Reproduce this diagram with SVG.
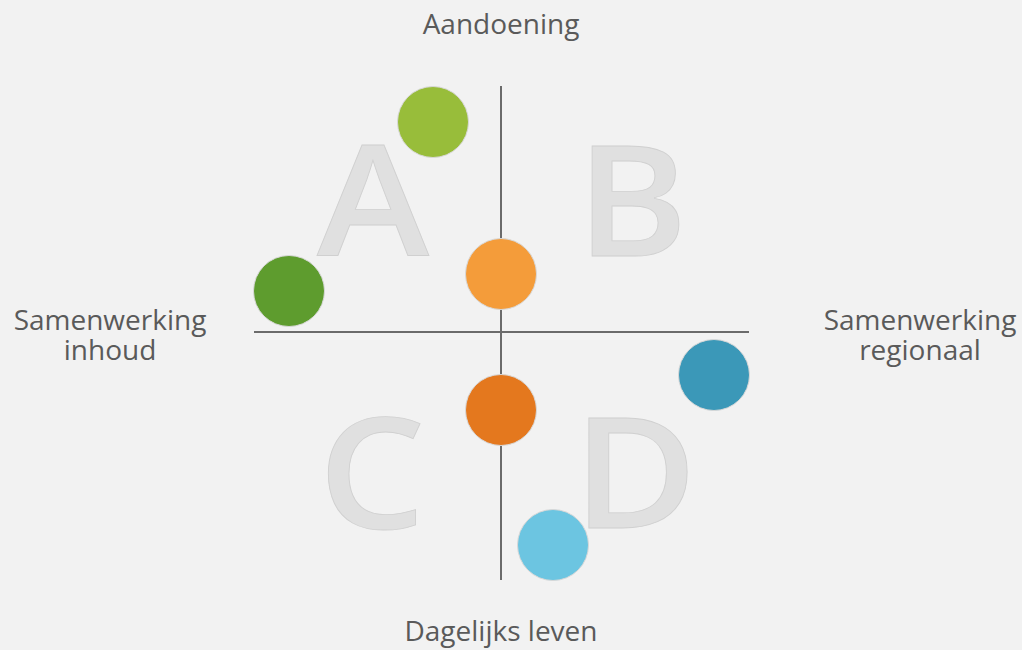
<svg xmlns="http://www.w3.org/2000/svg" width="1022" height="650" viewBox="0 0 1022 650">
<style>
.bg{fill:#f2f2f2}
.big{font-family:"Open Sans","Liberation Sans",sans-serif;font-weight:600;font-size:154px;fill:#e0e0e0;stroke:#d0d0d0;stroke-width:0.8;text-anchor:middle}
.lbl{font-family:"Open Sans","Liberation Sans",sans-serif;font-size:28px;fill:#5a5a5a;text-anchor:middle}
.axis{stroke:#6b6b6b;stroke-width:2;fill:none}
.dot{stroke:#d8d8d8;stroke-width:1}
</style>
<rect class="bg" x="0" y="0" width="1022" height="650"/>
<g id="quadrant-letters">
<text class="big" transform="translate(373,256) scale(1.1,1)">A</text>
<text class="big" transform="translate(632,256) scale(1.1,1)">B</text>
<text class="big" transform="translate(372,529) scale(1.1,1)">C</text>
<text class="big" transform="translate(635,528) scale(1.1,1)">D</text>
</g>
<g id="connectors">
<line class="axis" x1="501" y1="86" x2="501" y2="580"/>
<line class="axis" x1="254" y1="332" x2="749" y2="332"/>
</g>
<g id="label-top"><text class="lbl" x="501" y="34">Aandoening</text></g>
<g id="label-left"><text class="lbl" x="110" y="330">Samenwerking</text><text class="lbl" x="110" y="360">inhoud</text></g>
<g id="label-right"><text class="lbl" x="920" y="330">Samenwerking</text><text class="lbl" x="920" y="360">regionaal</text></g>
<g id="label-bottom"><text class="lbl" x="501" y="641">Dagelijks leven</text></g>
<g id="dot-lightgreen"><circle class="dot" cx="433" cy="122" r="35.5" fill="#98bd3a"/></g>
<g id="dot-darkgreen"><circle class="dot" cx="289" cy="291" r="35.5" fill="#5e9c2e"/></g>
<g id="dot-orange"><circle class="dot" cx="501" cy="274" r="35.5" fill="#f49c3a"/></g>
<g id="dot-darkorange"><circle class="dot" cx="501" cy="410" r="35.5" fill="#e4781e"/></g>
<g id="dot-blue"><circle class="dot" cx="714" cy="375" r="35.5" fill="#3b98b8"/></g>
<g id="dot-lightblue"><circle class="dot" cx="553" cy="545" r="35.5" fill="#6cc5e1"/></g>
</svg>
